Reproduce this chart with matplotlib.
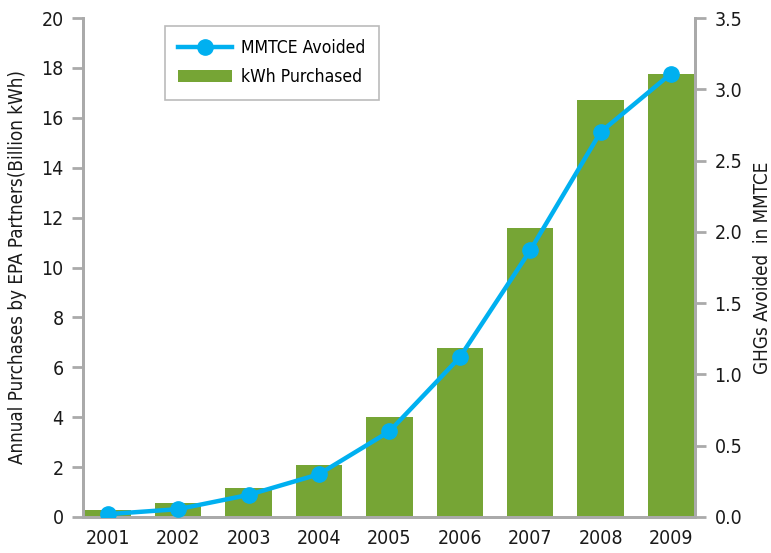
import matplotlib as mpl
mpl.use("Agg")
import matplotlib.pyplot as plt
from matplotlib.lines import Line2D
from matplotlib.patches import Patch

years = ["2001", "2002", "2003", "2004", "2005", "2006", "2007", "2008", "2009"]
kwh_purchased = [0.3, 0.55, 1.15, 2.07, 4.0, 6.76, 11.57, 16.7, 17.76]
mmtce_avoided = [0.02, 0.055, 0.155, 0.30, 0.60, 1.12, 1.87, 2.70, 3.11]

GREEN = "#76a535"
BLUE = "#00b0f0"
GREY = "#aaaaaa"
INK = "#1a1a1a"

# condensed face, closest to the reference's narrow type
plt.rcParams["font.family"] = ["DejaVu Sans"]
plt.rcParams["font.stretch"] = "condensed"

fig = plt.figure(figsize=(7.71, 5.53), dpi=100)
ax = fig.add_axes([83 / 771, 36 / 553, 612 / 771, 499 / 553])
ax2 = ax.twinx()

x = list(range(len(years)))
ax.bar(x, kwh_purchased, width=0.66, color=GREEN, zorder=2)
ax2.plot(x, mmtce_avoided, color=BLUE, lw=3.2, marker="o", ms=11, zorder=3)

ax.set_xlim(-0.35, 8.34)
ax.set_ylim(0, 20)
ax.set_yticks(range(0, 21, 2))
ax2.set_ylim(0, 3.5)
ax2.set_yticks([i * 0.5 for i in range(8)])
ax2.set_yticklabels([f"{i * 0.5:.1f}" for i in range(8)])
ax.set_xticks(x)
ax.set_xticklabels(years)

for a in (ax, ax2):
    a.spines["top"].set_visible(False)
    for s in ("left", "right", "bottom"):
        a.spines[s].set_color(GREY)
        a.spines[s].set_linewidth(2)
    a.tick_params(axis="y", length=8, width=2, color=GREY, labelsize=14, labelcolor=INK, pad=6)
ax.tick_params(axis="x", length=0, labelsize=14, labelcolor=INK, pad=9)
ax2.set_zorder(ax.get_zorder() + 1)
ax2.patch.set_visible(False)

ax.set_ylabel("Annual Purchases by EPA Partners(Billion kWh)", fontsize=13.5, color=INK, labelpad=10)
ax2.set_ylabel("GHGs Avoided  in MMTCE", fontsize=13.5, color=INK, labelpad=8)

handles = [
    Line2D([0], [0], color=BLUE, lw=3.2, marker="o", ms=11),
    Patch(facecolor=GREEN),
]
leg = ax2.legend(handles, ["MMTCE Avoided", "kWh Purchased"], loc="upper left",
                 bbox_to_anchor=(0.134, 0.984), borderaxespad=0, fontsize=12.6,
                 frameon=True, fancybox=False, edgecolor=GREY, handlelength=3.1,
                 handletextpad=0.5, borderpad=0.75, labelspacing=0.65)
leg.get_frame().set_linewidth(1.2)

fig.savefig("out.png", dpi=100)
